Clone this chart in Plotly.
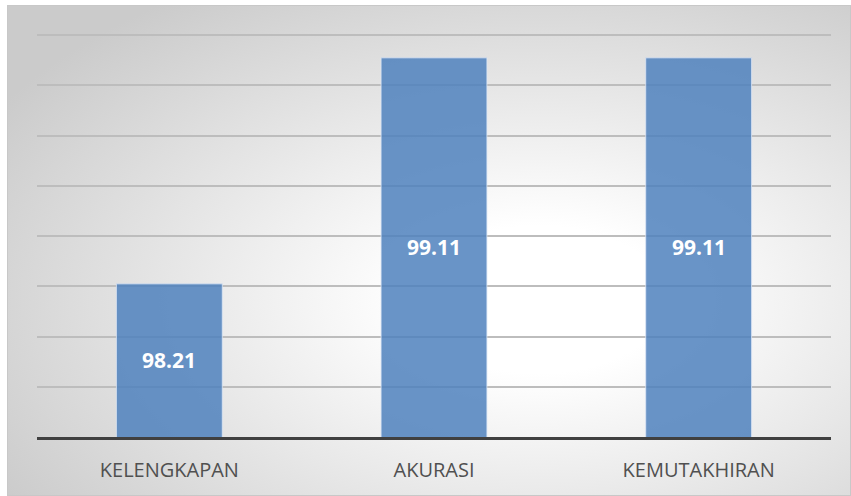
import plotly.graph_objects as go
import base64

categories = ["KELENGKAPAN", "AKURASI", "KEMUTAKHIRAN"]
values = [98.21, 99.11, 99.11]
labels = ["98.21", "99.11", "99.11"]
y_min, y_max, y_step = 97.6, 99.2, 0.2

W, H = 851, 496
L, R, T, B = 37, 20, 34, 59
pw, ph = W - L - R, H - T - B

svg = (
    '<svg xmlns="http://www.w3.org/2000/svg" width="844" height="491" preserveAspectRatio="none" viewBox="0 0 844 491">'
    '<defs><radialGradient id="g" cx="0.63" cy="0.6" r="0.75" gradientUnits="objectBoundingBox">'
    '<stop offset="0" stop-color="#ffffff"/><stop offset="0.2" stop-color="#ffffff"/>'
    '<stop offset="1" stop-color="#cbcbcb"/></radialGradient></defs>'
    '<rect x="0" y="0" width="844" height="491" fill="url(#g)"/>'
    '<rect x="0" y="0" width="844" height="491" fill="none" stroke="#c8c8c8" stroke-width="2"/>'
    '</svg>'
)
src = "data:image/svg+xml;base64," + base64.b64encode(svg.encode()).decode()

fig = go.Figure(go.Bar(
    x=categories, y=values,
    marker=dict(color="rgba(79,129,189,0.85)", line=dict(color="rgba(220,230,245,0.8)", width=1)),
))

for c, v, t in zip(categories, values, labels):
    fig.add_annotation(
        x=c, y=(y_min + v) / 2, text="<b>" + t + "</b>", showarrow=False,
        font=dict(family="Open Sans, sans-serif", size=21, color="white"),
    )

fig.add_layout_image(dict(
    source=src, xref="paper", yref="paper",
    x=(7 - L) / pw, y=(H - B - 5) / ph,
    sizex=(W - 7) / pw, sizey=(H - 5) / ph,
    xanchor="left", yanchor="top", sizing="stretch", layer="below",
))

fig.update_layout(
    width=W, height=H,
    margin=dict(l=L, r=R, t=T, b=B, pad=0),
    paper_bgcolor="white", plot_bgcolor="rgba(0,0,0,0)",
    bargap=0.6, showlegend=False,
    font=dict(family="Open Sans, sans-serif", size=20, color="#505050"),
)
fig.update_xaxes(
    showline=True, linecolor="#404040", linewidth=3,
    ticks="outside", ticklen=13, tickcolor="rgba(0,0,0,0)",
    tickfont=dict(family="Open Sans, sans-serif", size=20, color="#505050"), showgrid=False,
)
fig.update_yaxes(
    range=[y_min, y_max + 0.005], dtick=y_step, tick0=y_min,
    showticklabels=False, showgrid=True, gridcolor="#bdbdbd", gridwidth=1.5,
    zeroline=False, showline=False,
)

fig.write_html("out.html")
